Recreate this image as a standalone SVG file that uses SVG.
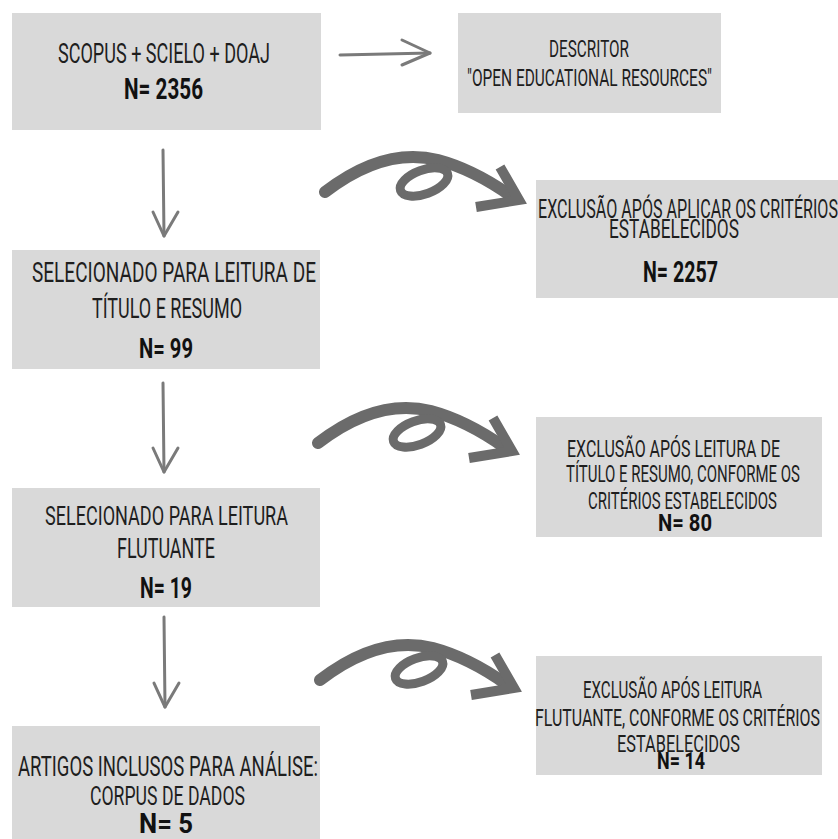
<svg xmlns="http://www.w3.org/2000/svg" width="838" height="839" viewBox="0 0 838 839">
<defs>
<style>
.box{fill:#d9d9d9;}
.t{font-family:Roboto,"Liberation Sans",sans-serif;fill:#1e1e1e;font-weight:400;}
.n{font-family:Roboto,"Liberation Sans",sans-serif;fill:#111;font-weight:700;}
.curl{fill:none;stroke:#6b6b6b;stroke-width:12;stroke-linecap:round;}
.loop{fill:none;stroke:#6b6b6b;stroke-width:9;}
.head{fill:none;stroke:#6b6b6b;stroke-width:10;stroke-linejoin:miter;stroke-linecap:butt;}
.thin{fill:none;stroke:#7a7a7a;stroke-width:3;stroke-linecap:round;stroke-linejoin:round;}
</style>
<g id="curly">
<path class="curl" d="M325,192 C360,165 398,150 438,160 C468,168 494,184 511,196"/>
<ellipse class="loop" cx="424" cy="182" rx="25" ry="12" transform="rotate(-20 424 182)"/>
<polyline class="head" points="500,167 519,200 476,207"/>
</g>
</defs>
<rect width="838" height="839" fill="#ffffff"/>

<g id="connectors">
<g id="h-arrow">
<path class="thin" d="M340,55 L430,53" stroke-width="5"/>
<path class="thin" d="M402,40 L430,53 L402,65" stroke-width="4"/>
</g>
<g id="v-arrow-1">
<path class="thin" d="M163,150 L164,236"/>
<path class="thin" d="M153,212 L164,236 L178,212"/>
</g>
<g id="v-arrow-2">
<path class="thin" d="M163,383 L164,472"/>
<path class="thin" d="M153,448 L164,472 L178,448"/>
</g>
<g id="v-arrow-3">
<path class="thin" d="M164,617 L165,707"/>
<path class="thin" d="M154,683 L165,707 L179,683"/>
</g>
<use href="#curly" id="curly-1"/>
<use href="#curly" id="curly-2" transform="translate(-7,251)"/>
<use href="#curly" id="curly-3" transform="translate(-5,488)"/>
</g>

<g id="n1">
<rect class="box" x="12" y="13" width="309" height="117"/>
<text class="t" x="58" y="63" font-size="28" textLength="212" lengthAdjust="spacingAndGlyphs">SCOPUS + SCIELO + DOAJ</text>
<text class="n" x="124" y="99" font-size="30" textLength="79" lengthAdjust="spacingAndGlyphs">N= 2356</text>
</g>

<g id="n2">
<rect class="box" x="458" y="13" width="263" height="100"/>
<text class="t" x="549" y="57" font-size="23" textLength="80" lengthAdjust="spacingAndGlyphs">DESCRITOR</text>
<text class="t" x="467" y="86" font-size="24" textLength="245" lengthAdjust="spacingAndGlyphs">"OPEN EDUCATIONAL RESOURCES"</text>
</g>

<g id="n3">
<rect class="box" x="536" y="180" width="302" height="118"/>
<text class="t" x="538" y="218" font-size="25" textLength="300" lengthAdjust="spacingAndGlyphs">EXCLUSÃO APÓS APLICAR OS CRITÉRIOS</text>
<text class="t" x="609" y="238" font-size="25" textLength="130" lengthAdjust="spacingAndGlyphs">ESTABELECIDOS</text>
<text class="n" x="643" y="282" font-size="30" textLength="75" lengthAdjust="spacingAndGlyphs">N= 2257</text>
</g>

<g id="n4">
<rect class="box" x="12" y="250" width="308" height="119"/>
<text class="t" x="32" y="282" font-size="27" textLength="284" lengthAdjust="spacingAndGlyphs">SELECIONADO PARA LEITURA DE</text>
<text class="t" x="92" y="318" font-size="27" textLength="150" lengthAdjust="spacingAndGlyphs">TÍTULO E RESUMO</text>
<text class="n" x="139" y="358" font-size="28" textLength="54" lengthAdjust="spacingAndGlyphs">N= 99</text>
</g>

<g id="n5">
<rect class="box" x="12" y="488" width="308" height="119"/>
<text class="t" x="45" y="525" font-size="26" textLength="243" lengthAdjust="spacingAndGlyphs">SELECIONADO PARA LEITURA</text>
<text class="t" x="117" y="558" font-size="27" textLength="98" lengthAdjust="spacingAndGlyphs">FLUTUANTE</text>
<text class="n" x="140" y="598" font-size="29" textLength="52" lengthAdjust="spacingAndGlyphs">N= 19</text>
</g>

<g id="n6">
<rect class="box" x="12" y="726" width="308" height="113"/>
<text class="t" x="18" y="776" font-size="27" textLength="300" lengthAdjust="spacingAndGlyphs">ARTIGOS INCLUSOS PARA ANÁLISE:</text>
<text class="t" x="90" y="805" font-size="26" textLength="155" lengthAdjust="spacingAndGlyphs">CORPUS DE DADOS</text>
<text class="n" x="139" y="833" font-size="27" textLength="54" lengthAdjust="spacingAndGlyphs">N= 5</text>
</g>

<g id="n7">
<rect class="box" x="536" y="417" width="286" height="120"/>
<text class="t" x="567" y="457" font-size="24" textLength="213" lengthAdjust="spacingAndGlyphs">EXCLUSÃO APÓS LEITURA DE</text>
<text class="t" x="566" y="482" font-size="24" textLength="234" lengthAdjust="spacingAndGlyphs">TÍTULO E RESUMO, CONFORME OS</text>
<text class="t" x="588" y="509" font-size="24" textLength="189" lengthAdjust="spacingAndGlyphs">CRITÉRIOS ESTABELECIDOS</text>
<text class="n" x="658" y="531" font-size="24" textLength="54" lengthAdjust="spacingAndGlyphs">N= 80</text>
</g>

<g id="n8">
<rect class="box" x="536" y="656" width="286" height="119"/>
<text class="t" x="583" y="698" font-size="24" textLength="179" lengthAdjust="spacingAndGlyphs">EXCLUSÃO APÓS LEITURA</text>
<text class="t" x="535" y="726" font-size="24" textLength="285" lengthAdjust="spacingAndGlyphs">FLUTUANTE, CONFORME OS CRITÉRIOS</text>
<text class="t" x="617" y="752" font-size="24" textLength="123" lengthAdjust="spacingAndGlyphs">ESTABELECIDOS</text>
<text class="n" x="657" y="769" font-size="24" textLength="48" lengthAdjust="spacingAndGlyphs">N= 14</text>
</g>
</svg>
